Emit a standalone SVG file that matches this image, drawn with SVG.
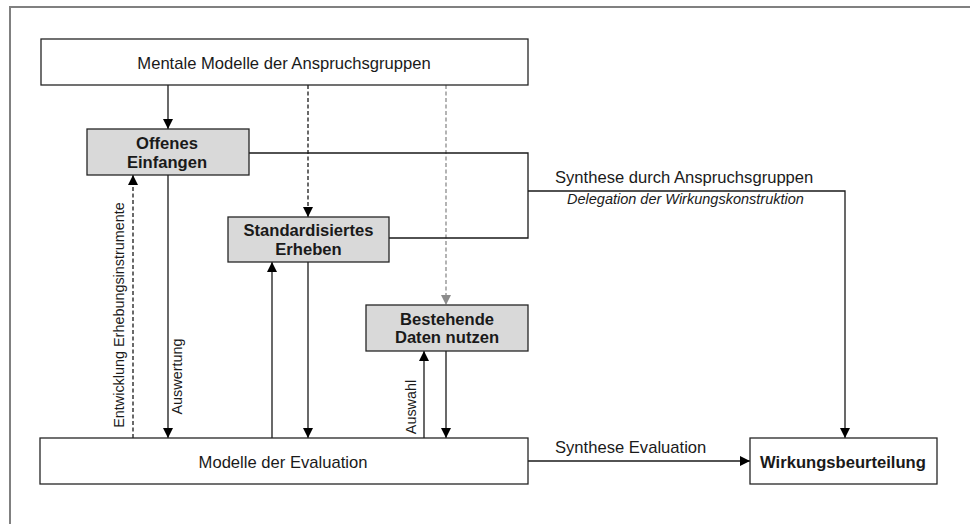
<svg xmlns="http://www.w3.org/2000/svg" width="970" height="524" viewBox="0 0 970 524">
  <style>
    .box { stroke: #262626; stroke-width: 1.3; }
    .plain { fill: #ffffff; }
    .shaded { fill: #d9d9d9; }
    .t { font-family: "Liberation Sans", Arial, sans-serif; font-size: 16.6px; fill: #1a1a1a; }
    .b { font-weight: bold; }
    .it { font-style: italic; font-size: 14.5px; }
    .rot { font-size: 14.4px; }
    .ln { fill: none; stroke: #1a1a1a; stroke-width: 1.3; }
    .dash { stroke-dasharray: 4 2.5; }
    .grey { stroke: #8c8c8c; }
  </style>
  <defs>
    <marker id="ah" viewBox="0 0 10 10" refX="10" refY="5" markerWidth="10" markerHeight="10" markerUnits="userSpaceOnUse" orient="auto">
      <path d="M0,0 L10,5 L0,10 Z" fill="#000000"/>
    </marker>
    <marker id="ahg" viewBox="0 0 10 10" refX="10" refY="5" markerWidth="10" markerHeight="10" markerUnits="userSpaceOnUse" orient="auto">
      <path d="M0,0 L10,5 L0,10 Z" fill="#8c8c8c"/>
    </marker>
  </defs>

  <rect width="970" height="524" fill="#ffffff"/>
  <!-- outer frame, open to the right and bottom -->
  <path d="M10,530 L10,7 L975,7" fill="none" stroke="#808080" stroke-width="2"/>

  <g id="connectors">
    <!-- Mentale Modelle down to the three methods -->
    <path class="ln" d="M168,85 L168,129" marker-end="url(#ah)"/>
    <path class="ln dash" d="M308,85 L308,217" marker-end="url(#ah)"/>
    <path class="ln dash grey" d="M446,85 L446,305" marker-end="url(#ahg)"/>

    <!-- Offenes Einfangen <-> Modelle der Evaluation -->
    <path class="ln dash" d="M133,438 L133,175" marker-end="url(#ah)"/>
    <path class="ln" d="M168,175 L168,438" marker-end="url(#ah)"/>

    <!-- Standardisiertes Erheben <-> Modelle der Evaluation -->
    <path class="ln" d="M272,438 L272,262" marker-end="url(#ah)"/>
    <path class="ln" d="M308,262 L308,438" marker-end="url(#ah)"/>

    <!-- Bestehende Daten nutzen <-> Modelle der Evaluation -->
    <path class="ln" d="M424,438 L424,351" marker-end="url(#ah)"/>
    <path class="ln" d="M446,351 L446,438" marker-end="url(#ah)"/>

    <!-- synthesis by stakeholder groups -->
    <path class="ln" d="M249,153 L528,153 L528,238 L389,238"/>
    <path class="ln" d="M528,191 L845,191 L845,438" marker-end="url(#ah)"/>

    <!-- synthesis by evaluation -->
    <path class="ln" d="M528,461 L750,461" marker-end="url(#ah)"/>

    <!-- connector labels -->
    <text class="t" x="555" y="183">Synthese durch Anspruchsgruppen</text>
    <text class="t it" x="567" y="204">Delegation der Wirkungskonstruktion</text>
    <text class="t" x="555" y="453">Synthese Evaluation</text>
    <text class="t rot" transform="translate(124,315) rotate(-90)" text-anchor="middle">Entwicklung  Erhebungsinstrumente</text>
    <text class="t rot" transform="translate(182,376.5) rotate(-90)" text-anchor="middle">Auswertung</text>
    <text class="t rot" transform="translate(416,407) rotate(-90)" text-anchor="middle">Auswahl</text>
  </g>

  <g id="mentale-modelle">
    <rect class="box plain" x="41" y="39" width="487" height="46"/>
    <text class="t" x="284" y="69" text-anchor="middle">Mentale Modelle der Anspruchsgruppen</text>
  </g>

  <g id="offenes-einfangen">
    <rect class="box shaded" x="87" y="129" width="162" height="46"/>
    <text class="t b" x="167" y="149" text-anchor="middle">Offenes</text>
    <text class="t b" x="167" y="168" text-anchor="middle">Einfangen</text>
  </g>

  <g id="standardisiertes-erheben">
    <rect class="box shaded" x="228" y="217" width="161" height="45"/>
    <text class="t b" x="308.5" y="236" text-anchor="middle">Standardisiertes</text>
    <text class="t b" x="308.5" y="255" text-anchor="middle">Erheben</text>
  </g>

  <g id="bestehende-daten">
    <rect class="box shaded" x="366" y="305" width="162" height="46"/>
    <text class="t b" x="447" y="325" text-anchor="middle">Bestehende</text>
    <text class="t b" x="447" y="343" text-anchor="middle">Daten nutzen</text>
  </g>

  <g id="modelle-evaluation">
    <rect class="box plain" x="40" y="438" width="488" height="46"/>
    <text class="t" x="283" y="468" text-anchor="middle">Modelle der Evaluation</text>
  </g>

  <g id="wirkungsbeurteilung">
    <rect class="box plain" x="750" y="438" width="187" height="46"/>
    <text class="t b" x="843" y="468" text-anchor="middle">Wirkungsbeurteilung</text>
  </g>
</svg>
